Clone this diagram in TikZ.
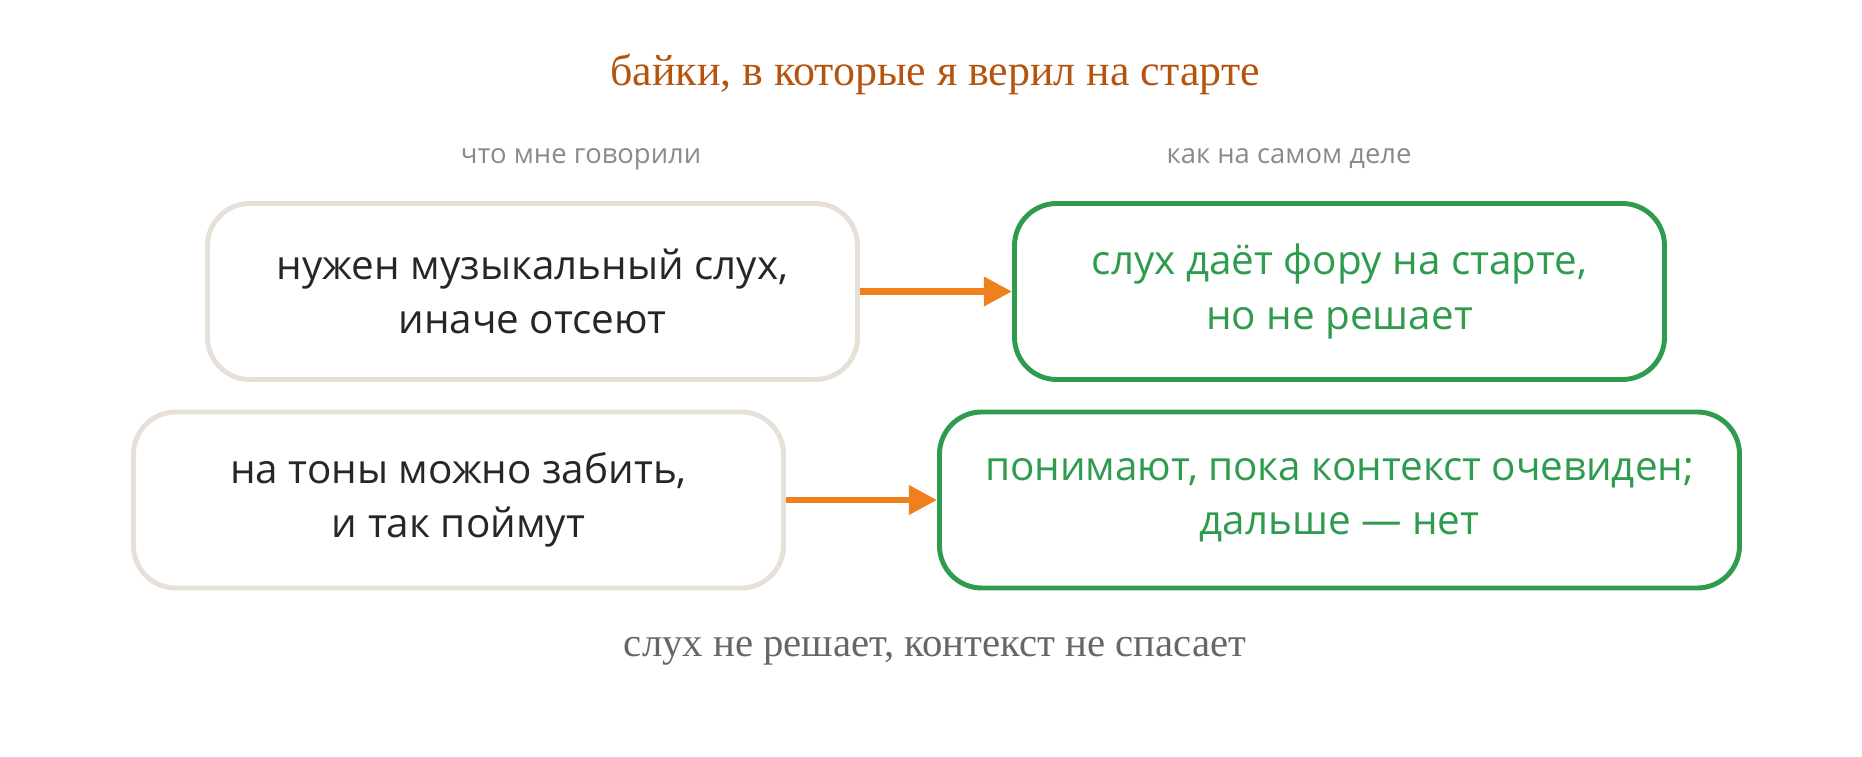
\documentclass[tikz,border=0pt]{standalone}
\usepackage{fontspec}
\setmainfont{Liberation Serif}
\newfontfamily\boxfont{Open Sans}
\usetikzlibrary{arrows.meta}
\definecolor{titlec}{HTML}{B5540F}
\definecolor{mythc}{HTML}{E6E0D8}
\definecolor{truthc}{HTML}{2E9B4E}
\definecolor{arrowc}{HTML}{F0801E}
\definecolor{notec}{HTML}{8A8A8A}
\definecolor{footc}{HTML}{666666}
\tikzset{
  myth/.style={draw=mythc, line width=1.4pt, rounded corners=12pt, fill=white,
    minimum width=6.5cm, minimum height=1.76cm, align=center,
    font=\boxfont\fontsize{11.5}{15.5}\selectfont, text=black!85},
  truth/.style={myth, draw=truthc, text=truthc},
  link/.style={draw=arrowc, line width=1.8pt, -{Triangle[length=8pt,width=8pt]}},
  colhead/.style={font=\boxfont\fontsize{7.8}{10}\selectfont, text=notec}
}
\begin{document}
\begin{tikzpicture}
  \useasboundingbox (0,0) rectangle (18.62,-7.57);
  \node[font=\fontsize{12.5}{15}\selectfont, text=titlec] (title) at (9.35,-0.74) {байки, в которые я верил на старте};
  \node[colhead] (lefthead) at (5.81,-1.59) {что мне говорили};
  \node[colhead] (righthead) at (12.89,-1.59) {как на самом деле};
  % first row
  \node[myth] (ear) at (5.325,-2.915) {нужен музыкальный слух,\\иначе отсеют};
  \node[truth] (earreal) at (13.395,-2.915) {слух даёт фору на старте,\\но не решает};
  % second row
  \node[myth] (tones) at (4.585,-5.0) {на тоны можно забить,\\и так поймут};
  \node[truth, minimum width=8.0cm] (tonesreal) at (13.395,-5.0) {понимают, пока контекст очевиден;\\дальше — нет};
  \draw[link] (ear) -- (earreal);
  \draw[link] (tones) -- (tonesreal);
  \node[font=\fontsize{11.6}{14}\selectfont, text=footc] (foot) at (9.35,-6.51) {слух не решает, контекст не спасает};
\end{tikzpicture}
\end{document}
